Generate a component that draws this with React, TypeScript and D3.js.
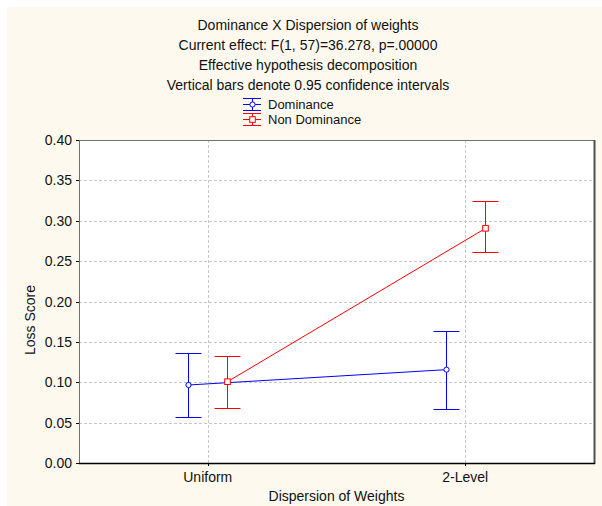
import { useRef, useEffect } from 'react';
import * as d3 from 'd3';

// chart data
const categories = ['Uniform', '2-Level'];
const seriesNames = ['Dominance', 'Non Dominance'];
const seriesColors = ['#0000ff', '#ff0000'];
const dominanceMean = [0.0966, 0.1156];
const dominanceLow = [0.0574, 0.0665];
const dominanceHigh = [0.136, 0.164];
const nonDominanceMean = [0.1007, 0.2906];
const nonDominanceLow = [0.0685, 0.261];
const nonDominanceHigh = [0.132, 0.324];
const yTicks = [0, 0.05, 0.1, 0.15, 0.2, 0.25, 0.3, 0.35, 0.4];
const titleLines = [
  'Dominance X Dispersion of weights',
  'Current effect: F(1, 57)=36.278, p=.00000',
  'Effective hypothesis decomposition',
  'Vertical bars denote 0.95 confidence intervals',
];

const W = 602;
const H = 506;
const FONT = 'Liberation Sans, Arial, sans-serif';
const FS = 14;

const App = () => {
  const svgRef = useRef<SVGSVGElement>(null);

  useEffect(() => {
    const svg = d3.select(svgRef.current);
    svg.selectAll('*').remove();

    const left = 79, right = 594, top = 140, bottom = 463;

    const x = d3.scalePoint().domain(categories).range([left, right]).padding(0.5);
    const y = d3.scaleLinear().domain([0, 0.4]).range([bottom, top]);

    // backgrounds
    svg.append('rect').attr('x', 7).attr('y', 7).attr('width', W - 7).attr('height', H - 7).attr('fill', '#fdf9ef');
    svg.append('rect').attr('x', left).attr('y', top).attr('width', right - left).attr('height', bottom - top).attr('fill', '#ffffff');

    // grid
    const grid = svg.append('g').attr('stroke', '#c8c8c8').attr('stroke-dasharray', '3,2').attr('stroke-width', 1);
    yTicks.slice(1, -1).forEach((t) => {
      grid.append('line').attr('x1', left).attr('x2', right)
        .attr('y1', Math.round(y(t)) + 0.5).attr('y2', Math.round(y(t)) + 0.5);
    });
    categories.forEach((c) => {
      const cx = Math.round(x(c)!) + 0.5;
      grid.append('line').attr('x1', cx).attr('x2', cx).attr('y1', top).attr('y2', bottom);
    });

    // frame
    svg.append('line').attr('x1', left + 0.5).attr('x2', left + 0.5).attr('y1', top).attr('y2', bottom).attr('stroke', '#707070');
    svg.append('line').attr('x1', left).attr('x2', right).attr('y1', top + 0.5).attr('y2', top + 0.5).attr('stroke', '#707070');
    svg.append('line').attr('x1', right + 0.5).attr('x2', right + 0.5).attr('y1', top).attr('y2', bottom + 1).attr('stroke', '#505050').attr('stroke-width', 2);
    svg.append('line').attr('x1', left).attr('x2', right + 1).attr('y1', bottom + 0.5).attr('y2', bottom + 0.5).attr('stroke', '#000000').attr('stroke-width', 1.5);

    const label = (tx: number, ty: number, str: string, anchor = 'middle', size = FS) =>
      svg.append('text').attr('x', tx).attr('y', ty).attr('dy', '0.35em')
        .attr('text-anchor', anchor).attr('font-family', FONT).attr('font-size', size).attr('fill', '#111')
        .text(str);

    // y ticks and labels
    yTicks.forEach((t) => {
      const ty = Math.round(y(t)) + 0.5;
      svg.append('line').attr('x1', left - 3).attr('x2', left).attr('y1', ty).attr('y2', ty).attr('stroke', '#000');
      label(72, ty, t.toFixed(2), 'end');
    });

    // x labels
    categories.forEach((c) => {
      const cx = Math.round(x(c)!) + 0.5;
      svg.append('line').attr('x1', cx).attr('x2', cx).attr('y1', bottom).attr('y2', bottom + 3).attr('stroke', '#000');
      label(x(c)!, 477, c);
    });

    label((left + right) / 2, 496, 'Dispersion of Weights');

    svg.append('text').attr('transform', 'translate(30,320) rotate(-90)').attr('dy', '0.35em')
      .attr('text-anchor', 'middle').attr('font-family', FONT).attr('font-size', FS).attr('fill', '#111')
      .text('Loss Score');

    // title
    titleLines.forEach((line, i) => label(308, 25 + i * 20, line));

    // series
    const series = [
      { mean: dominanceMean, low: dominanceLow, high: dominanceHigh, offset: -19.5, shape: 'circle' },
      { mean: nonDominanceMean, low: nonDominanceLow, high: nonDominanceHigh, offset: 19.5, shape: 'square' },
    ];

    const drawMarker = (g: any, cx: number, cy: number, shape: string, color: string) => {
      if (shape === 'circle') {
        g.append('circle').attr('cx', cx).attr('cy', cy).attr('r', 2.6)
          .attr('fill', '#fff').attr('stroke', color).attr('stroke-width', 1);
      } else {
        g.append('rect').attr('x', cx - 2.8).attr('y', cy - 2.8).attr('width', 5.6).attr('height', 5.6)
          .attr('fill', '#fff').attr('stroke', color).attr('stroke-width', 1);
      }
    };

    series.forEach((s, si) => {
      const color = seriesColors[si];
      const g = svg.append('g');
      const px = (i: number) => Math.round(x(categories[i])! + s.offset) + 0.5;
      const line = d3.line<number>().x((_, i) => px(i)).y((d) => y(d));
      g.append('path').attr('d', line(s.mean)).attr('fill', 'none').attr('stroke', color).attr('stroke-width', 1);

      s.mean.forEach((m, i) => {
        const cx = px(i);
        const yl = Math.round(y(s.low[i])) + 0.5;
        const yh = Math.round(y(s.high[i])) + 0.5;
        g.append('line').attr('x1', cx).attr('x2', cx).attr('y1', yh).attr('y2', yl).attr('stroke', color);
        g.append('line').attr('x1', cx - 13).attr('x2', cx + 13).attr('y1', yh).attr('y2', yh).attr('stroke', color);
        g.append('line').attr('x1', cx - 13).attr('x2', cx + 13).attr('y1', yl).attr('y2', yl).attr('stroke', color);
        drawMarker(g, cx, y(m), s.shape, color);
      });
    });

    // legend
    seriesNames.forEach((name, i) => {
      const color = seriesColors[i];
      const ly = 104.5 + i * 15;
      const lx = 252;
      const g = svg.append('g');
      g.append('line').attr('x1', lx - 9).attr('x2', lx + 9).attr('y1', ly - 6).attr('y2', ly - 6).attr('stroke', color);
      g.append('line').attr('x1', lx - 9).attr('x2', lx + 9).attr('y1', ly + 6).attr('y2', ly + 6).attr('stroke', color);
      g.append('line').attr('x1', lx - 9).attr('x2', lx + 9).attr('y1', ly).attr('y2', ly).attr('stroke', color);
      g.append('line').attr('x1', lx + 0.5).attr('x2', lx + 0.5).attr('y1', ly - 6).attr('y2', ly + 6).attr('stroke', color);
      drawMarker(g, lx + 0.5, ly, series[i].shape, color);
      label(268, ly, name, 'start', 13);
    });
  }, []);

  return (
    <svg
      ref={svgRef}
      width={W}
      height={H}
      style={{ position: 'absolute', left: 0, top: 0, display: 'block' }}
    />
  );
};

export default App;
